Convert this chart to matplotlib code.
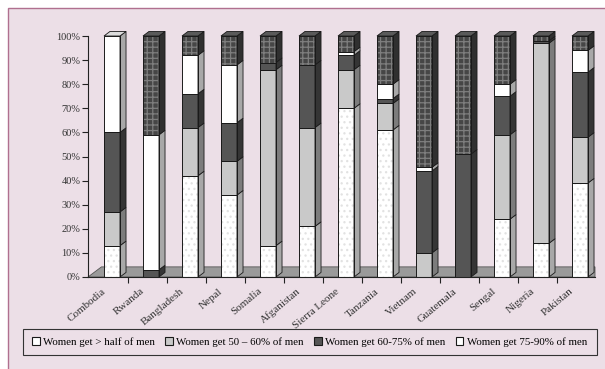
import matplotlib
matplotlib.use('Agg')
import matplotlib.pyplot as plt
from matplotlib.patches import Polygon, Rectangle, Patch

plt.rcParams['font.family'] = ['Liberation Serif', 'DejaVu Serif']
plt.rcParams['hatch.linewidth'] = 0.9

countries = ['Combodia', 'Rwanda', 'Bangladesh', 'Nepal', 'Somalia', 'Afganistan',
             'Sierra Leone', 'Tanzania', 'Vietnam', 'Guatemala', 'Sengal', 'Nigeria', 'Pakistan']

# share of women in each wage band (percent)
half_of_men = [13, 0, 42, 34, 13, 21, 70, 61, 0, 0, 24, 14, 39]
pct_50_60 = [14, 0, 20, 14, 73, 41, 16, 11, 10, 0, 35, 83, 19]
pct_60_75 = [33, 3, 14, 16, 3, 26, 6, 2, 34, 51, 16, 1, 27]
pct_75_90 = [40, 56, 16, 24, 0, 0, 1.5, 6, 1.5, 0, 5, 0, 9]
rest = [0, 41, 8, 12, 11, 12, 6.5, 20, 54.5, 49, 20, 2, 6]

legend_labels = ['Women get > half of men', 'Women get 50 \u2013 60% of men',
                 'Women get 60-75% of men', 'Women get 75-90% of men']
yticks = [0, 10, 20, 30, 40, 50, 60, 70, 80, 90, 100]

bg = '#ecdfe7'
# front colour, side colour, hatch, hatch colour
styles = [
    ('#ffffff', '#a8a8a8', '...', '#e2e2e2'),
    ('#c9c9c9', '#7c7c7c', None, None),
    ('#555555', '#353535', None, None),
    ('#ffffff', '#a8a8a8', None, None),
    ('#464646', '#303030', '+++', '#7e7e7e'),
]
series = [half_of_men, pct_50_60, pct_60_75, pct_75_90, rest]

fig = plt.figure(figsize=(6.05, 3.69), dpi=100)
fig.patch.set_facecolor('white')
# pinkish panel with mauve frame
fig.patches.append(Rectangle((8 / 605, -0.1), 1.1, 1 - 8 / 369 + 0.1, transform=fig.transFigure,
                             facecolor=bg, edgecolor='#b0708f', lw=1.0, zorder=-10))

ax = fig.add_axes([88 / 605, 1 - 277 / 369, 507 / 605, 241 / 369])
ax.set_facecolor('none')
ax.set_xlim(-0.615, 12.385)
ax.set_ylim(0, 100)

w = 0.41
dx = 0.155
dy = 1.9

# floor
ax.add_patch(Polygon([(-0.615, 0), (-0.27, 4.2), (12.385, 4.2), (12.385, 0)], closed=True,
                     facecolor='#9a9a9a', edgecolor='#555555', lw=0.6, zorder=1, clip_on=False))

for i in range(len(countries)):
    bottom = 0
    last = None
    for s, vals in enumerate(series):
        v = vals[i]
        if v <= 0:
            continue
        front, side, hatch, hcol = styles[s]
        ax.bar(i, v, bottom=bottom, width=w, color=front, edgecolor='none', lw=0, zorder=3)
        if hatch:
            ax.bar(i, v, bottom=bottom, width=w, color='none', edgecolor=hcol, hatch=hatch,
                   lw=0, zorder=3)
        ax.bar(i, v, bottom=bottom, width=w, color='none', edgecolor='#1a1a1a', lw=0.7, zorder=4)
        xr = i + w / 2
        ax.add_patch(Polygon([(xr, bottom), (xr + dx, bottom + dy), (xr + dx, bottom + v + dy),
                              (xr, bottom + v)], closed=True, facecolor=side,
                             edgecolor='#1a1a1a', lw=0.6, zorder=3, clip_on=False))
        bottom += v
        last = s
    front, side, hatch, hcol = styles[last]
    top_col = '#dcdcdc' if front == '#ffffff' else '#5a5a5a'
    xl = i - w / 2
    ax.add_patch(Polygon([(xl, bottom), (xl + dx, bottom + dy), (i + w / 2 + dx, bottom + dy),
                          (i + w / 2, bottom)], closed=True, facecolor=top_col,
                         edgecolor='#1a1a1a', lw=0.6, zorder=3, clip_on=False))

for sp in ['top', 'right']:
    ax.spines[sp].set_visible(False)
ax.spines['left'].set_color('#222222')
ax.spines['bottom'].set_color('#222222')
ax.spines['left'].set_zorder(5)
ax.spines['bottom'].set_zorder(5)

ax.set_yticks(yticks)
ax.set_yticklabels([f'{t}%' for t in yticks], fontsize=7.5, color='#333333')
ax.tick_params(axis='y', length=4, width=0.8, pad=1.5, color='#222222')
ax.set_xticks([i + 0.4 for i in range(len(countries) - 1)])
ax.set_xticklabels([])
ax.tick_params(axis='x', length=4, width=0.8, direction='out', color='#222222')

for i, c in enumerate(countries):
    ax.text(i - 0.27, -0.04, c, transform=ax.get_xaxis_transform(), rotation=40,
            rotation_mode='anchor', ha='right', va='top', fontsize=8, color='#333333')

# legend frame drawn separately so the entries can sit inside it freely
fig.patches.append(Rectangle((23 / 605, 1 - 355 / 369), 574 / 605, 26 / 369,
                             transform=fig.transFigure, facecolor=bg, edgecolor='#333333',
                             lw=0.8, zorder=-5))
handles = [Patch(facecolor=styles[k][0], edgecolor='#1a1a1a', lw=0.8) for k in range(4)]
fig.legend(handles, legend_labels, ncol=4, loc='center',
           bbox_to_anchor=(32 / 605, 1 - 355 / 369, 555 / 605, 26 / 369), mode='expand',
           fontsize=7.8, frameon=False, handlelength=0.7, handleheight=0.7,
           handletextpad=0.3, columnspacing=1.0, borderaxespad=0, borderpad=0)

fig.savefig('out.png', dpi=100, facecolor=fig.get_facecolor())
